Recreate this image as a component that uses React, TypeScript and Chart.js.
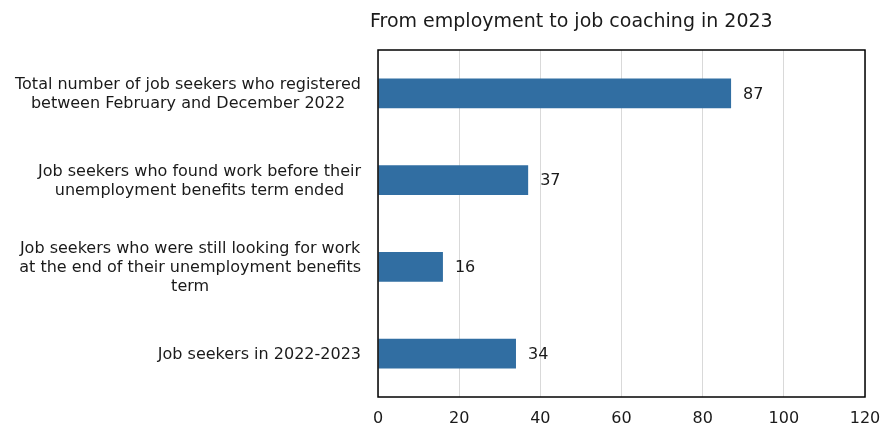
import React, { useEffect, useRef } from "react";
import { Chart, registerables } from "chart.js";

Chart.register(...registerables);

const title = "From employment to job coaching in 2023";
const categories: string[][] = [
  ["Total number of job seekers who registered", "between February and December 2022"],
  ["Job seekers who found work before their", "unemployment benefits term ended"],
  ["Job seekers who were still looking for work", "at the end of their unemployment benefits", "term"],
  ["Job seekers in 2022-2023"],
];
const values = [87, 37, 16, 34];
const xMin = 0;
const xMax = 120;
const xStep = 20;

const FONT = "DejaVu Sans";
const TEXT = "#1a1a1a";

const decorPlugin = {
  id: "decor",
  afterDraw(chart: any) {
    const { ctx, chartArea } = chart;
    ctx.save();
    ctx.font = `19px ${FONT}`;
    ctx.fillStyle = TEXT;
    ctx.textAlign = "left";
    ctx.textBaseline = "alphabetic";
    ctx.fillText(title, 370, 27);
    ctx.strokeStyle = "#000";
    ctx.lineWidth = 1.5;
    ctx.strokeRect(chartArea.left, chartArea.top, chartArea.right - chartArea.left, chartArea.bottom - chartArea.top);
    const ys = chart.scales.y;
    ctx.font = `16px ${FONT}`;
    ctx.textAlign = "center";
    ctx.textBaseline = "middle";
    const lh = 19;
    categories.forEach((lines, i) => {
      const py = ys.getPixelForTick(i);
      const widest = Math.max(...lines.map((l) => ctx.measureText(l).width));
      const cx = chartArea.left - 17 - widest / 2;
      const y0 = py - ((lines.length - 1) * lh) / 2;
      lines.forEach((l, j) => ctx.fillText(l, cx, y0 + 1 + j * lh));
    });
    const meta = chart.getDatasetMeta(0);
    ctx.font = `16px ${FONT}`;
    ctx.textAlign = "left";
    meta.data.forEach((bar: any, i: number) => {
      ctx.fillText(String(values[i]), bar.x + 12, bar.y + 1);
    });
    ctx.restore();
  },
};

export default function App() {
  const ref = useRef<HTMLCanvasElement>(null);
  useEffect(() => {
    const chart = new Chart(ref.current!, {
      type: "bar",
      data: {
        labels: categories,
        datasets: [
          {
            data: values,
            backgroundColor: "#316ea2",
            borderWidth: 0,
            barPercentage: 0.345,
            categoryPercentage: 1,
          },
        ],
      },
      options: {
        indexAxis: "y",
        animation: false,
        responsive: false,
        maintainAspectRatio: false,
        layout: { padding: { top: 50, right: 15, left: 0, bottom: 0 } },
        plugins: { legend: { display: false }, title: { display: false }, tooltip: { enabled: false } },
        scales: {
          x: {
            min: xMin,
            max: xMax,
            ticks: { stepSize: xStep, font: { family: FONT, size: 16 }, color: TEXT, padding: 12 },
            grid: { color: "#d9d9d9", lineWidth: 1, drawTicks: false },
            border: { display: false },
            afterFit: (s: any) => {
              s.height = 32;
              s.paddingLeft = 0;
              s.paddingRight = 0;
            },
          },
          y: {
            ticks: { display: false },
            grid: { display: false },
            border: { display: false },
            afterFit: (s: any) => {
              s.width = 378;
            },
          },
        },
      },
      plugins: [decorPlugin],
    });
    return () => chart.destroy();
  }, []);
  return (
    <div style={{ position: "absolute", left: 0, top: 0, width: 880, height: 429, background: "#fff" }}>
      <canvas ref={ref} width={880} height={429} />
    </div>
  );
}
